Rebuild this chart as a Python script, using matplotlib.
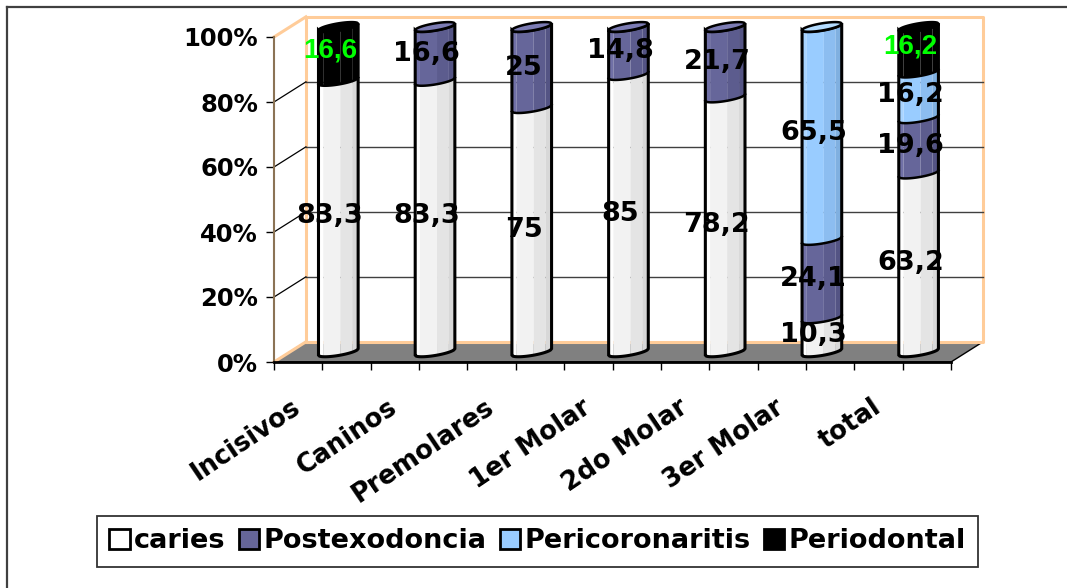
import numpy as np
import matplotlib.pyplot as plt
from matplotlib.patches import Polygon, Patch
from matplotlib.lines import Line2D

categorias = ['Incisivos', 'Caninos', 'Premolares', '1er Molar', '2do Molar', '3er Molar', 'total']
caries = [83.3, 83.3, 75, 85, 78.2, 10.3, 63.2]
postexodoncia = [0, 16.6, 25, 14.8, 21.7, 24.1, 19.6]
pericoronaritis = [0, 0, 0, 0, 0, 65.5, 16.2]
periodontal = [16.6, 0, 0, 0, 0, 0, 16.2]

nombres = ['caries', 'Postexodoncia', 'Pericoronaritis', 'Periodontal']
valores = [caries, postexodoncia, pericoronaritis, periodontal]

# franjas de sombreado de cada cilindro (izquierda -> derecha) y color de la tapa
franjas = [0, 0.12, 0.55, 0.85, 1.0]
sombras = {
    'caries': ['#FFFFFF', '#F2F2F2', '#E4E4E4', '#D8D8D8'],
    'Postexodoncia': ['#7070A6', '#66669A', '#5C5C8E', '#545484'],
    'Pericoronaritis': ['#A8D4FF', '#99CCFF', '#8CBDF0', '#80B0E0'],
    'Periodontal': ['#000000', '#000000', '#000000', '#000000'],
}
tapa = {'caries': '#F4F4F4', 'Postexodoncia': '#7C7CB4',
        'Pericoronaritis': '#B4DCFF', 'Periodontal': '#000000'}
leyenda_color = {'caries': '#FFFFFF', 'Postexodoncia': '#666699',
                 'Pericoronaritis': '#99CCFF', 'Periodontal': '#000000'}

PX, PY = 0.33, 6.2      # profundidad del grafico 3D
ANCHO = 0.41            # ancho de cada cilindro
R = ANCHO / 2
A, B = 2.0, 1.1          # inclinacion y curvatura de las elipses

peach = '#FFCC99'

fig = plt.figure(figsize=(10.67, 5.88), dpi=100)
ax = fig.add_axes([274 / 1067, 1 - 362 / 588, 677 / 1067, 325 / 588])
ax.set_xlim(0, len(categorias))
ax.set_ylim(0, 100)
ax.patch.set_visible(False)

# marco exterior
fig.add_artist(Line2D([7 / 1067, 7 / 1067], [0, 1 - 7 / 588], color='#404040', lw=1.6))
fig.add_artist(Line2D([7 / 1067, 1], [1 - 7 / 588, 1 - 7 / 588], color='#404040', lw=1.6))

n = len(categorias)

# piso gris
ax.add_patch(Polygon([(0, 0), (n, 0), (n + PX, PY), (PX, PY)], closed=True,
                     facecolor='#808080', edgecolor='black', lw=1, zorder=1, clip_on=False))

# paredes
ax.plot([PX, PX, n + PX, n + PX, PX], [PY, 100 + PY, 100 + PY, PY, PY],
        color=peach, lw=2.2, zorder=1.5, clip_on=False)
ax.plot([0, PX], [100, 100 + PY], color=peach, lw=2.2, zorder=1.5, clip_on=False)
ax.plot([0, PX], [0, PY], color=peach, lw=2.2, zorder=1.5, clip_on=False)

# lineas de division
for v in range(20, 100, 20):
    ax.plot([PX, n + PX], [v + PY, v + PY], color='#404040', lw=1, zorder=2, clip_on=False)
    ax.plot([0, PX], [v, v + PY], color='black', lw=0.9, zorder=2, clip_on=False)


def arco(x, xc, nivel, atras=False):
    c = np.clip((x - xc) / R, -1, 1)
    s = np.sqrt(np.clip(1 - c ** 2, 0, None))
    return nivel + A / 2 * c + (B * s if atras else -B * s)


def fmt(v):
    return f'{v:g}'.replace('.', ',')


for i in range(n):
    fila = [vals[i] for vals in valores]
    total = sum(fila)
    xc = i + 0.5 + PX / 2
    yo = PY / 2
    xs = np.linspace(xc - R, xc + R, 40)
    base = 0.0
    niveles = []
    ultimo = None
    for nombre, v in zip(nombres, fila):
        if v == 0:
            continue
        alto = v / total * 100
        lo, hi = base + yo, base + alto + yo
        for k in range(len(franjas) - 1):
            xa = xc - R + franjas[k] * ANCHO
            xb = xc - R + franjas[k + 1] * ANCHO
            xx = np.linspace(xa, xb, 12)
            pts = np.vstack([np.column_stack([xx, arco(xx, xc, hi)]),
                             np.column_stack([xx[::-1], arco(xx[::-1], xc, lo)])])
            ax.add_patch(Polygon(pts, closed=True, facecolor=sombras[nombre][k],
                                 edgecolor='none', zorder=3, clip_on=False))
        # etiqueta del segmento
        if nombre == 'Periodontal':
            ax.text(xc - 0.085, base + alto / 2 + yo + 1, fmt(v), color='#00FF00',
                    fontsize=20, fontweight='bold', fontstretch='condensed',
                    family=['Liberation Sans Narrow', 'Liberation Sans'],
                    ha='center', va='center', zorder=10)
        else:
            ax.text(xc - 0.085, base + alto / 2 + yo, fmt(v), color='black',
                    fontsize=19.5, fontweight='bold', family='DejaVu Sans',
                    ha='center', va='center', zorder=10)
        base += alto
        niveles.append(hi)
        ultimo = nombre

    # lineas entre segmentos
    for h in niveles[:-1]:
        ax.plot(xs, arco(xs, xc, h), color='black', lw=1.8, zorder=4, clip_on=False)
    # contorno del cilindro
    tope = 100 + yo
    cont = np.vstack([np.column_stack([xs, arco(xs, xc, tope)]),
                      np.column_stack([xs[::-1], arco(xs[::-1], xc, yo)])])
    ax.add_patch(Polygon(cont, closed=True, facecolor='none', edgecolor='black',
                         lw=2.2, zorder=4, clip_on=False))
    # tapa superior
    cap = np.vstack([np.column_stack([xs, arco(xs, xc, tope)]),
                     np.column_stack([xs[::-1], arco(xs[::-1], xc, tope, atras=True)])])
    ax.add_patch(Polygon(cap, closed=True, facecolor=tapa[ultimo], edgecolor='black',
                         lw=1.8, zorder=5, clip_on=False))

# ejes
ax.spines['top'].set_visible(False)
ax.spines['right'].set_visible(False)
ax.spines['left'].set_color('#8B7355')
ax.spines['left'].set_linewidth(1.5)
ax.spines['bottom'].set_color('black')
ax.spines['bottom'].set_linewidth(2)
ax.spines['left'].set_zorder(2.5)
ax.spines['bottom'].set_zorder(2.5)

ax.set_yticks(range(0, 101, 20))
ax.set_yticklabels([f'{v}%' for v in range(0, 101, 20)], fontsize=17.5,
                   fontweight='bold', family='DejaVu Sans')
ax.tick_params(axis='y', direction='out', length=5.5, width=1, color='black', pad=6)
ax.set_xticks(np.arange(0, n + 0.01, 0.5))
ax.set_xticklabels([])
ax.tick_params(axis='x', direction='out', length=5.5, width=1, color='black')

for i, cat in enumerate(categorias):
    ax.text(i + 0.25, -13.2, cat, rotation=34, rotation_mode='anchor',
            ha='right', va='center', fontsize=18.5, fontweight='bold',
            family='DejaVu Sans', clip_on=False)

# leyenda
handles = [Patch(facecolor=leyenda_color[nm], edgecolor='black', lw=2) for nm in nombres]
leg = fig.legend(handles, nombres, loc='center', ncol=4,
                 bbox_to_anchor=(537.5 / 1067, 1 - 541.5 / 588),
                 bbox_transform=fig.transFigure,
                 prop={'family': 'DejaVu Sans', 'weight': 'bold', 'size': 19.5},
                 handlelength=0.75, handleheight=0.75, handletextpad=0.15,
                 columnspacing=0.5, borderpad=0.45, fancybox=False,
                 framealpha=1, edgecolor='#333333')
leg.get_frame().set_linewidth(1.3)

fig.savefig('out.png', dpi=100)
